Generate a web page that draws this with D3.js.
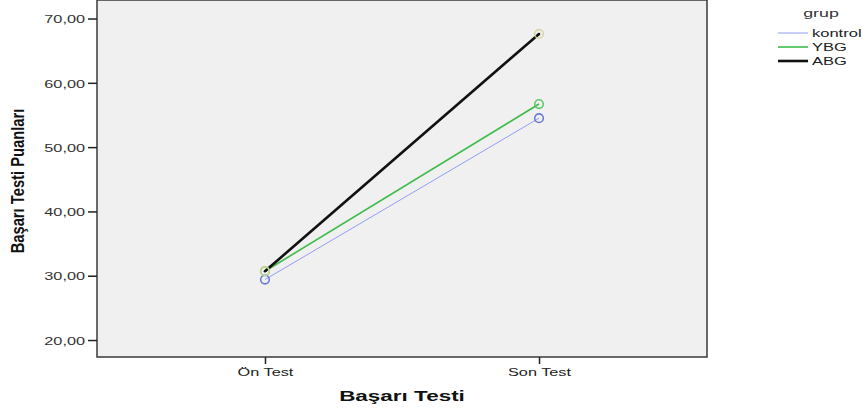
<!DOCTYPE html>
<html>
<head>
<meta charset="utf-8">
<script src="https://cdn.jsdelivr.net/npm/d3@7"></script>
<style>
  body { margin: 0; background: #fff; }
  svg { display: block; }
</style>
</head>
<body>
<div id="chart"></div>
<script>
// data
const phases = ["Ön Test", "Son Test"];
const groups = ["kontrol", "YBG", "ABG"];
const kontrol = [29.4, 54.5];
const ybg = [30.7, 56.7];
const abg = [30.7, 67.6];
const yTicks = [20, 30, 40, 50, 60, 70];

const series = [
  { key: groups[0], values: kontrol, stroke: "#919ef5", width: 1, marker: "#5b6fd3" },
  { key: groups[1], values: ybg, stroke: "#3dbb4b", width: 1.6, marker: "#52c35d" },
  { key: groups[2], values: abg, stroke: "#111", width: 2.6, marker: "#d6d3a0" }
];

const width = 862, height = 410;
const plot = { left: 97, top: 0, right: 707, bottom: 357 };
const sx = 1.55; // the source text is stretched horizontally
const font = "Liberation Sans, Arial, sans-serif";

const svg = d3.select("#chart").append("svg")
  .attr("width", width)
  .attr("height", height);

const x = d3.scalePoint()
  .domain(phases)
  .range([plot.left, plot.right])
  .padding(0.613);

const y = d3.scaleLinear()
  .domain([17.36, 72.88])
  .range([plot.bottom, plot.top]);

// plot background
svg.append("rect")
  .attr("x", plot.left)
  .attr("y", plot.top)
  .attr("width", plot.right - plot.left)
  .attr("height", plot.bottom - plot.top)
  .attr("fill", "#f0f0f0")
  .attr("stroke", "#3a3a3a")
  .attr("stroke-width", 1.5);

// axes
const yAxis = d3.axisLeft(y)
  .tickValues(yTicks)
  .tickSize(9)
  .tickFormat(d => d3.format(".2f")(d).replace(".", ","));

const gy = svg.append("g")
  .attr("transform", `translate(${plot.left},0)`)
  .call(yAxis);
gy.select(".domain").remove();
gy.selectAll(".tick line").attr("stroke", "#222").attr("stroke-width", 1.5);
gy.selectAll(".tick text")
  .attr("x", -12 / sx)
  .attr("dy", "0.4em")
  .attr("transform", `scale(${sx},1)`)
  .attr("fill", "#333")
  .style("font-family", font)
  .style("font-size", "10.5px");

const xAxis = d3.axisBottom(x).tickSize(7);
const gx = svg.append("g")
  .attr("transform", `translate(0,${plot.bottom})`)
  .call(xAxis);
gx.select(".domain").remove();
gx.selectAll(".tick line").attr("stroke", "#222").attr("stroke-width", 1.5);
gx.selectAll(".tick text")
  .attr("y", 19)
  .attr("dy", 0)
  .attr("transform", `scale(${sx},1)`)
  .attr("fill", "#222")
  .style("font-family", font)
  .style("font-size", "10.5px");

// lines
const line = d3.line()
  .x((d, i) => x(phases[i]))
  .y(d => y(d));

svg.selectAll(".series")
  .data(series)
  .enter().append("path")
  .attr("class", "series")
  .attr("d", d => line(d.values))
  .attr("fill", "none")
  .attr("stroke", d => d.stroke)
  .attr("stroke-width", d => d.width);

// markers
series.forEach(s => {
  svg.selectAll(null)
    .data(s.values)
    .enter().append("circle")
    .attr("cx", (d, i) => x(phases[i]))
    .attr("cy", d => y(d))
    .attr("r", 4.3)
    .attr("fill", "none")
    .attr("stroke", s.marker)
    .attr("stroke-width", 1.6)
    .attr("opacity", 0.9);
});
// black centre dot of ABG markers
svg.selectAll(".dot")
  .data(abg)
  .enter().append("circle")
  .attr("class", "dot")
  .attr("cx", (d, i) => x(phases[i]))
  .attr("cy", d => y(d))
  .attr("r", 1.3)
  .attr("fill", "#111");

// axis titles
svg.append("text")
  .attr("transform", `translate(${(plot.left + plot.right) / 2},401) scale(${sx},1)`)
  .attr("text-anchor", "middle")
  .style("font-family", font)
  .style("font-weight", "bold")
  .style("font-size", "14.5px")
  .attr("fill", "#111")
  .text("Başarı Testi");

svg.append("text")
  .attr("transform", "translate(24,181) rotate(-90) scale(0.82,1)")
  .attr("text-anchor", "middle")
  .style("font-family", font)
  .style("font-weight", "bold")
  .style("font-size", "18px")
  .attr("fill", "#111")
  .text("Başarı Testi Puanları");

// legend
const legend = svg.append("g");
legend.append("text")
  .attr("transform", `translate(821,17) scale(${sx},1)`)
  .attr("text-anchor", "middle")
  .style("font-family", font)
  .style("font-size", "11.5px")
  .attr("fill", "#333")
  .text("grup");

const item = legend.selectAll(".item")
  .data(series)
  .enter().append("g")
  .attr("transform", (d, i) => `translate(778,${33 + i * 14})`);
item.append("line")
  .attr("x1", 0).attr("x2", 30)
  .attr("stroke", d => d.stroke)
  .attr("stroke-width", d => d.width);
item.append("text")
  .attr("transform", `translate(34,0) scale(1.62,1)`)
  .attr("dy", "0.36em")
  .style("font-family", font)
  .style("font-size", "10.2px")
  .attr("fill", "#222")
  .text(d => d.key);
</script>
</body>
</html>
